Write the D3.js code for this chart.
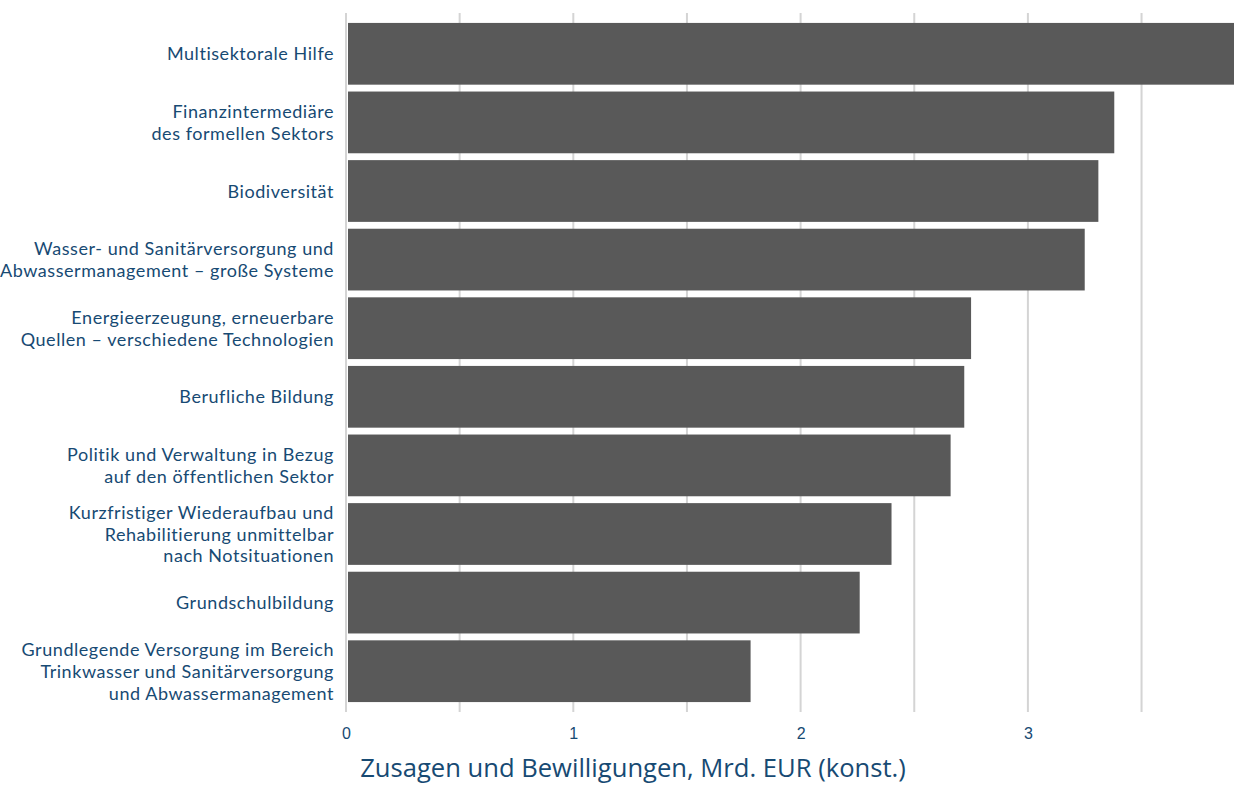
<!DOCTYPE html>
<html>
<head>
<meta charset="utf-8">
<script src="https://cdn.jsdelivr.net/npm/d3@7"></script>
<style>
  html, body { margin: 0; padding: 0; background: #fff; }
  svg { display: block; }
  .cat { font-family: Lato, "Open Sans", sans-serif; font-size: 18px; letter-spacing: 0.55px; fill: #174a73; }
  .tick text { font-family: "Liberation Sans", Arial, sans-serif; font-size: 16px; fill: #174a73; }
  .title { font-family: "Open Sans", sans-serif; font-size: 25.6px; fill: #174a73; }
</style>
</head>
<body>
<svg id="chart" width="1234" height="785"></svg>
<script>
// Sector names (multi-line labels split on "\n")
const categories = [
  "Multisektorale Hilfe",
  "Finanzintermediäre\ndes formellen Sektors",
  "Biodiversität",
  "Wasser- und Sanitärversorgung und\nAbwassermanagement – große Systeme",
  "Energieerzeugung, erneuerbare\nQuellen – verschiedene Technologien",
  "Berufliche Bildung",
  "Politik und Verwaltung in Bezug\nauf den öffentlichen Sektor",
  "Kurzfristiger Wiederaufbau und\nRehabilitierung unmittelbar\nnach Notsituationen",
  "Grundschulbildung",
  "Grundlegende Versorgung im Bereich\nTrinkwasser und Sanitärversorgung\nund Abwassermanagement"
];
// Commitments, bn EUR (constant prices)
const values = [3.95, 3.38, 3.31, 3.25, 2.75, 2.72, 2.66, 2.40, 2.26, 1.78];
const tickValues = [0, 1, 2, 3];
const gridValues = [0, 0.5, 1, 1.5, 2, 2.5, 3, 3.5];
const axisTitle = "Zusagen und Bewilligungen, Mrd. EUR (konst.)";

const svg = d3.select("#chart");
const x = d3.scaleLinear().domain([0, 1]).range([346, 573.3]);
const y = d3.scaleBand().domain(categories).range([19.5, 705.5])
  .paddingInner(0.1).paddingOuter(0.05);

// vertical gridlines
svg.append("g").selectAll("line").data(gridValues).join("line")
  .attr("x1", d => x(d)).attr("x2", d => x(d))
  .attr("y1", 13).attr("y2", 712)
  .attr("stroke", "#d4d4d4").attr("stroke-width", 2);

// bars
svg.append("g").selectAll("rect").data(categories).join("rect")
  .attr("x", x(0) + 2)
  .attr("y", d => y(d))
  .attr("width", (d, i) => x(values[i]) - x(0) - 2)
  .attr("height", y.bandwidth())
  .attr("fill", "#595959");

// category labels
const lh = 21.8;
svg.append("g").selectAll("text").data(categories).join("text")
  .attr("class", "cat")
  .attr("text-anchor", "end")
  .attr("x", 334)
  .attr("y", d => y(d) + y.bandwidth() / 2)
  .each(function(d) {
    const lines = d.split("\n");
    const t = d3.select(this);
    lines.forEach((ln, k) => {
      t.append("tspan")
        .attr("x", 334)
        .attr("dy", k === 0 ? ((-(lines.length - 1) / 2) * lh + 6.5) : lh)
        .text(ln);
    });
  });

// x axis tick labels
const axis = svg.append("g").attr("transform", "translate(0,739)")
  .call(d3.axisBottom(x).tickValues(tickValues).tickFormat(d3.format("d")).tickSize(0));
axis.select(".domain").remove();
axis.selectAll(".tick text").attr("y", 0).attr("dy", 0);

// axis title
svg.append("text").attr("class", "title")
  .attr("text-anchor", "middle")
  .attr("x", 633).attr("y", 777)
  .text(axisTitle);
</script>
</body>
</html>
